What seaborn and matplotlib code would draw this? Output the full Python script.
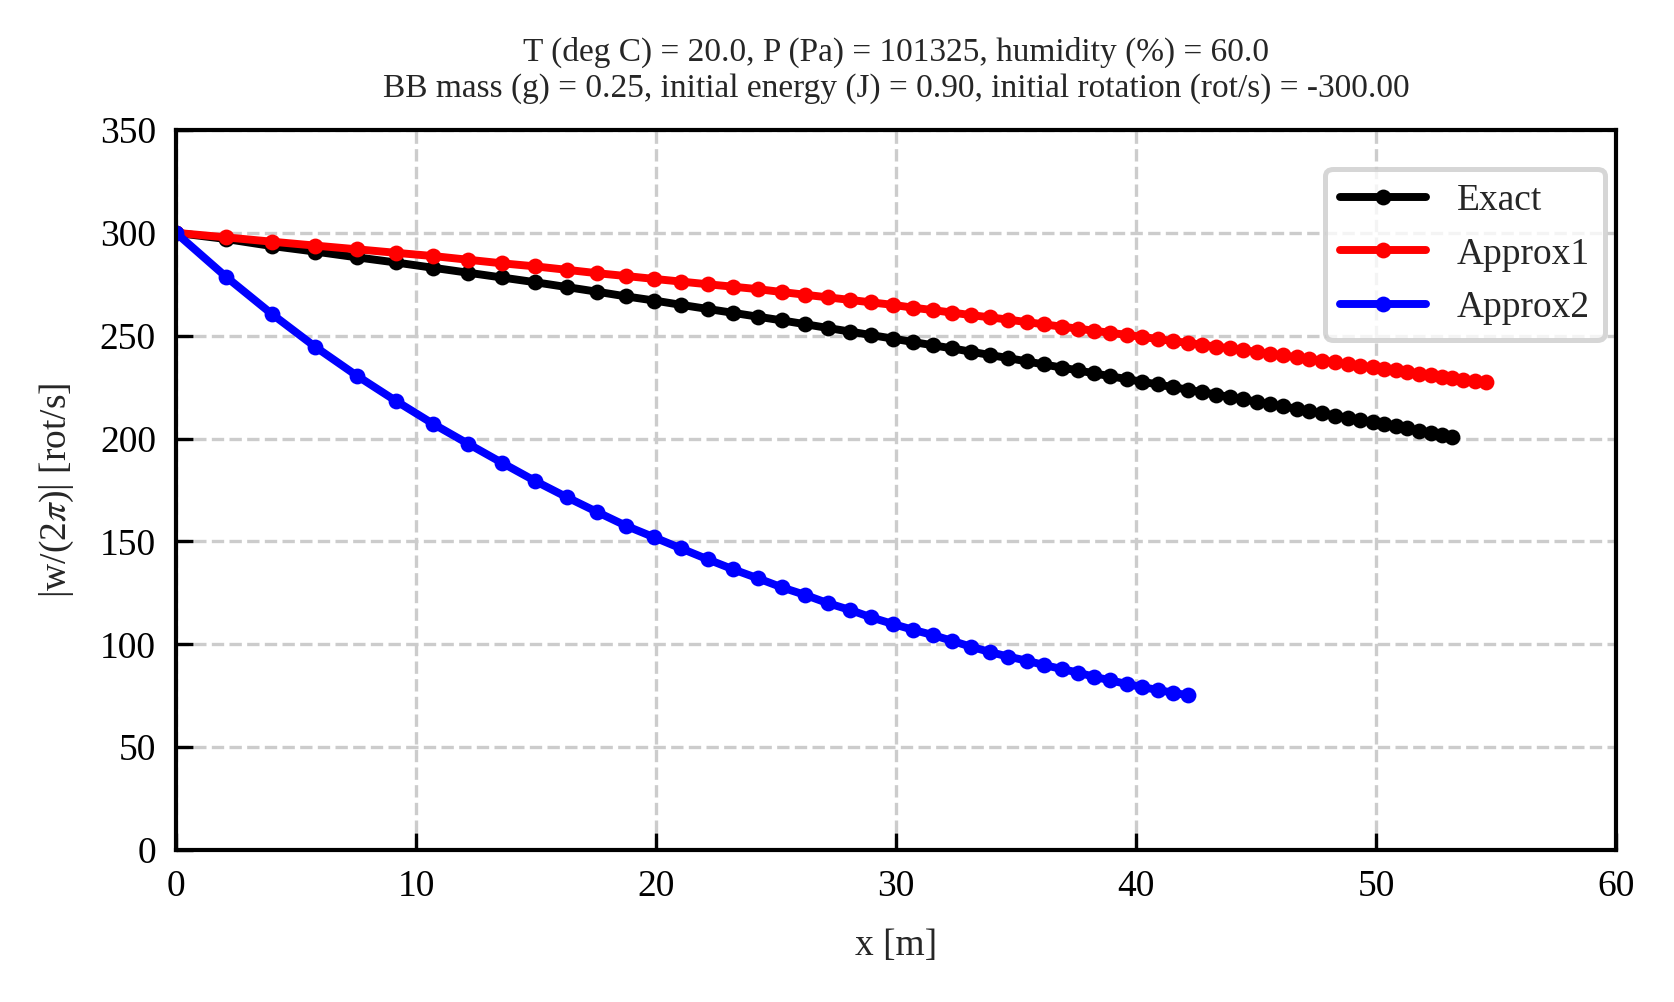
"""Spin decay of a BB along its flight: exact vs. two approximations."""

import matplotlib
matplotlib.use("Agg")
import matplotlib.pyplot as plt
import seaborn as sns

# downrange distance of each sample [m]
x_m = [0.00, 2.08, 3.99, 5.79, 7.53, 9.15, 10.72, 12.18, 13.57, 14.96,
       16.30, 17.53, 18.75, 19.92, 21.04, 22.15, 23.22, 24.26, 25.26, 26.21,
       27.18, 28.08, 28.96, 29.86, 30.72, 31.56, 32.35, 33.13, 33.92, 34.68,
       35.45, 36.17, 36.90, 37.60, 38.25, 38.92, 39.61, 40.26, 40.90, 41.53,
       42.15, 42.74, 43.32, 43.92, 44.47, 45.03, 45.58, 46.14, 46.69, 47.22,
       47.74, 48.29, 48.82, 49.33, 49.86, 50.33, 50.82, 51.30, 51.79, 52.28,
       52.74, 53.18, 53.64, 54.13, 54.58]

# |w/(2pi)| [rot/s]
exact = [300.0, 297.0, 293.6, 290.9, 288.1, 285.6, 283.0, 280.6, 278.3, 276.0,
         273.6, 271.4, 269.1, 267.1, 265.0, 263.0, 261.1, 259.2, 257.4, 255.6,
         253.7, 252.0, 250.3, 248.6, 246.9, 245.3, 243.8, 242.2, 240.6, 239.1,
         237.5, 236.0, 234.5, 233.1, 231.7, 230.3, 228.9, 227.6, 226.3, 225.0,
         223.8, 222.6, 221.4, 220.2, 219.1, 217.9, 216.8, 215.6, 214.5, 213.4,
         212.3, 211.2, 210.1, 209.0, 207.9, 206.9, 205.9, 204.9, 203.9, 202.8,
         201.9, 200.9]

approx1 = [300.0, 297.8, 295.7, 293.8, 292.0, 290.3, 288.7, 286.9, 285.2, 283.7,
           282.0, 280.4, 279.0, 277.6, 276.3, 275.0, 273.8, 272.6, 271.2, 269.9,
           268.6, 267.4, 266.2, 265.0, 263.6, 262.4, 261.2, 260.0, 258.9, 257.8,
           256.6, 255.5, 254.4, 253.4, 252.4, 251.4, 250.4, 249.4, 248.4, 247.4,
           246.5, 245.6, 244.7, 243.8, 243.0, 242.1, 241.2, 240.4, 239.5, 238.7,
           237.9, 237.1, 236.2, 235.4, 234.6, 233.9, 233.1, 232.4, 231.6, 230.9,
           230.1, 229.4, 228.7, 228.0, 227.3]

approx2 = [300.0, 278.7, 260.6, 244.7, 230.6, 218.4, 207.1, 197.4, 188.3, 179.4,
           171.4, 164.4, 157.6, 152.0, 146.6, 141.3, 136.4, 132.0, 127.6, 124.0,
           119.9, 116.7, 113.1, 109.9, 107.0, 104.4, 101.6, 98.8, 96.2, 94.0,
           92.0, 89.9, 88.0, 86.2, 84.2, 82.5, 80.7, 79.2, 77.8, 76.5,
           75.2]

series = [("Exact", exact, "black"),
          ("Approx1", approx1, "red"),
          ("Approx2", approx2, "blue")]

title = ("T (deg C) = 20.0, P (Pa) = 101325, humidity (%) = 60.0\n"
         "BB mass (g) = 0.25, initial energy (J) = 0.90, "
         "initial rotation (rot/s) = -300.00")

sns.set_theme(style="whitegrid", rc={
    "axes.edgecolor": "black",
    "axes.linewidth": 1.0,
    "grid.color": "#cccccc",
    "grid.linestyle": "--",
    "grid.linewidth": 0.8,
    "xtick.direction": "in",
    "ytick.direction": "in",
    "xtick.bottom": True,
    "ytick.left": True,
    "xtick.major.size": 4,
    "ytick.major.size": 4,
    "xtick.major.width": 0.8,
    "ytick.major.width": 0.8,
    "xtick.color": "black",
    "ytick.color": "black",
})
plt.rcParams["font.family"] = ["Liberation Serif", "DejaVu Serif"]
plt.rcParams["mathtext.fontset"] = "stix"

fig, ax = plt.subplots(figsize=(5.58, 3.34), dpi=300)
fig.subplots_adjust(left=0.1051, right=0.9654, top=0.8703, bottom=0.1517)

for name, vals, color in series:
    sns.lineplot(x=x_m[:len(vals)], y=vals, ax=ax, color=color, label=name,
                 linewidth=1.9, marker="o", markersize=3.8,
                 markeredgecolor=color, markeredgewidth=0)

ax.set_xlim(0, 60)
ax.set_ylim(0, 350)
ax.set_xticks(range(0, 61, 10))
ax.set_yticks(range(0, 351, 50))
ax.tick_params(labelsize=9, pad=4.8)
ax.set_xlabel("x [m]", fontsize=9, labelpad=5.8)
ax.set_ylabel(r"|w/(2$\pi$)| [rot/s]", fontsize=9, labelpad=5.8)
ax.set_title(title, fontsize=8, pad=8)

leg = ax.legend(loc="upper right", bbox_to_anchor=(0.992, 0.946),
                borderaxespad=0, fontsize=9, handlelength=2.3,
                labelspacing=0.5, fancybox=True, framealpha=0.8)
leg.get_frame().set_edgecolor("#cccccc")
leg.get_frame().set_linewidth(1.2)

fig.savefig("out.png", dpi=300)
